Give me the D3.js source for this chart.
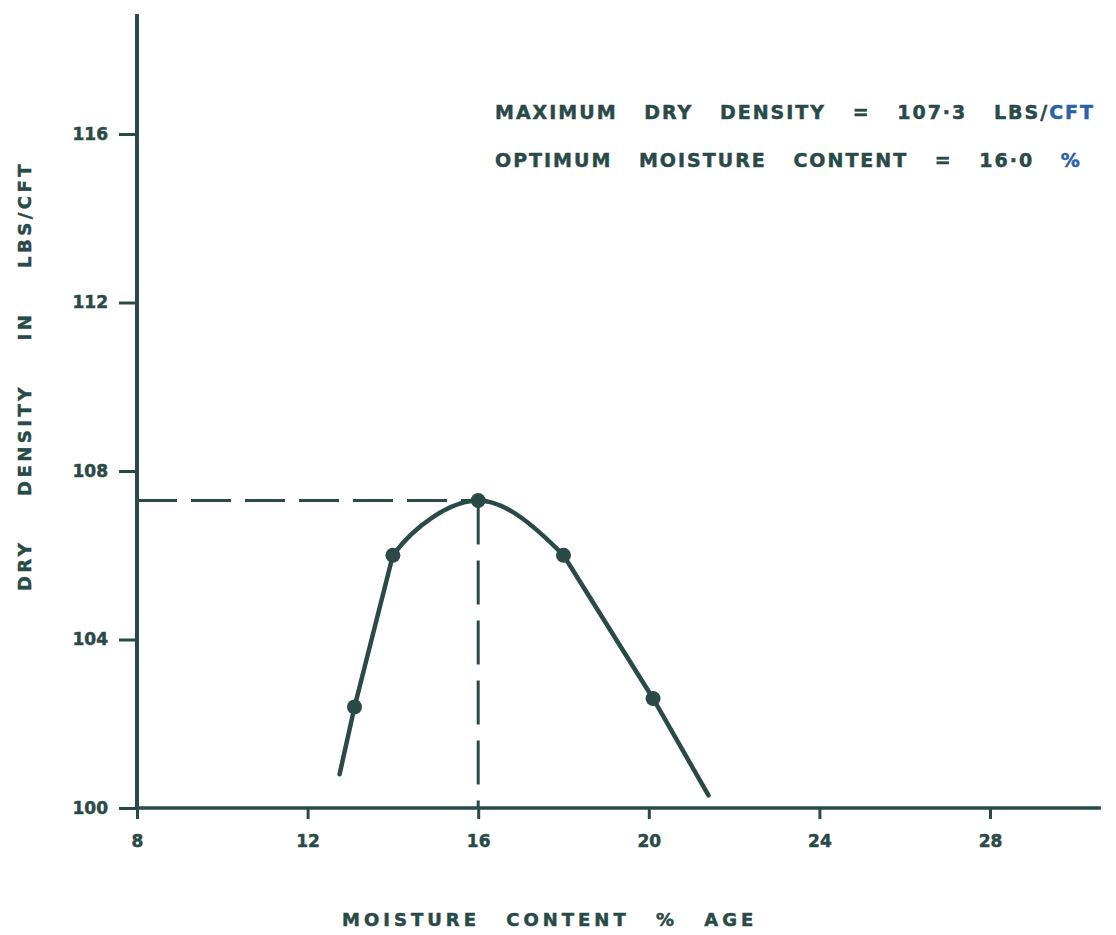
<!DOCTYPE html>
<html>
<head>
<meta charset="utf-8">
<script src="https://cdn.jsdelivr.net/npm/d3@7"></script>
<style>
  html, body { margin: 0; padding: 0; background: #ffffff; }
  svg { display: block; }
  text { font-family: "DejaVu Sans", sans-serif; font-weight: bold; fill: #2a4a48; stroke: #2a4a48; stroke-width: 0.5px; }
</style>
</head>
<body>
<svg id="chart" width="1116" height="935"></svg>
<script>
// ---- data ----
const moisture = [13.1, 14.0, 16.0, 18.0, 20.1];          // % moisture of test points
const density  = [102.4, 106.0, 107.3, 106.0, 102.6];     // dry density lbs/cft
const leftEndMoisture = 12.75, leftEndDensity = 100.8;    // where the drawn curve starts
const rightEndMoisture = 21.4, rightEndDensity = 100.3;   // where the drawn curve ends
const xTicks = [8, 12, 16, 20, 24, 28];
const yTicks = [100, 104, 108, 112, 116];
const maxDryDensity = 107.3;
const optimumMoisture = 16.0;

const ink = "#2a4a48";
const blue = "#2a62a8";
const svg = d3.select("#chart");

const x = d3.scaleLinear().domain([8, 28]).range([137, 990]);
const y = d3.scaleLinear().domain([100, 116]).range([808, 134]);

// axes
const yAxis = d3.axisLeft(y).tickValues(yTicks).tickSize(18).tickPadding(11).tickFormat(d3.format("d"));
const xAxis = d3.axisBottom(x).tickValues(xTicks).tickSize(11).tickPadding(16).tickFormat(d3.format("d"));

const styleTicks = g => {
  g.select(".domain").remove();
  g.selectAll(".tick line").attr("stroke", ink).attr("stroke-width", 3);
  g.selectAll(".tick text").attr("font-size", 17).attr("fill", ink)
    .style("font-family", "DejaVu Sans").style("font-weight", "bold");
};
svg.append("g").attr("transform", `translate(${x(8)},0)`).call(yAxis).call(styleTicks);
svg.append("g").attr("transform", `translate(0,${y(100)})`).call(xAxis).call(styleTicks);

// axis lines
svg.append("line").attr("x1", x(8)).attr("x2", x(8)).attr("y1", y(118.85)).attr("y2", y(100) + 1.5)
  .attr("stroke", ink).attr("stroke-width", 4);
svg.append("line").attr("x1", x(8)).attr("x2", x(30.6)).attr("y1", y(100)).attr("y2", y(100))
  .attr("stroke", ink).attr("stroke-width", 3.5);

// dashed guide lines
svg.append("line").attr("x1", x(8)).attr("x2", x(optimumMoisture)).attr("y1", y(maxDryDensity)).attr("y2", y(maxDryDensity))
  .attr("stroke", ink).attr("stroke-width", 3).attr("stroke-dasharray", "40,14");
svg.append("line").attr("x1", x(optimumMoisture)).attr("x2", x(optimumMoisture)).attr("y1", y(maxDryDensity)).attr("y2", y(100))
  .attr("stroke", ink).attr("stroke-width", 3).attr("stroke-dasharray", "44,16");

// curve: straight limbs, rounded arch over the peak
const pts = moisture.map((m, i) => [m, density[i]]);
const lin = d3.line().x(d => x(d[0])).y(d => y(d[1]));
const curveStyle = p => p.attr("fill", "none").attr("stroke", ink).attr("stroke-width", 4.5).attr("stroke-linecap", "round");
svg.append("path").attr("d", lin([[leftEndMoisture, leftEndDensity], pts[0], pts[1]])).call(curveStyle);
svg.append("path").attr("d", lin([pts[3], pts[4], [rightEndMoisture, rightEndDensity]])).call(curveStyle);

svg.append("clipPath").attr("id", "archClip").append("rect")
  .attr("x", x(pts[1][0])).attr("width", x(pts[3][0]) - x(pts[1][0]))
  .attr("y", 0).attr("height", y(100));
const arch = d3.line().x(d => x(d[0])).y(d => y(d[1])).curve(d3.curveCatmullRom.alpha(0.5));
svg.append("path").attr("d", arch(pts)).attr("clip-path", "url(#archClip)").call(curveStyle).attr("stroke-linecap", "butt");

// points
svg.selectAll("circle.pt").data(pts).join("circle")
  .attr("class", "pt").attr("cx", d => x(d[0])).attr("cy", d => y(d[1])).attr("r", 7.5).attr("fill", ink);

// annotations
const annStyle = t => t.attr("font-size", 19).style("letter-spacing", "2px").style("word-spacing", "18px");
const ann1 = svg.append("text").attr("x", 495).attr("y", 119).call(annStyle);
ann1.append("tspan").text("MAXIMUM DRY DENSITY = 107·3 LBS/");
ann1.append("tspan").style("fill", blue).style("stroke", blue).text("CFT");
const ann2 = svg.append("text").attr("x", 495).attr("y", 167).call(annStyle);
ann2.append("tspan").text("OPTIMUM MOISTURE CONTENT = 16·0 ");
ann2.append("tspan").style("fill", blue).style("stroke", blue).text("%");

// axis titles
svg.append("text").attr("x", 342).attr("y", 926).attr("font-size", 18)
  .style("letter-spacing", "4px").style("word-spacing", "16px").text("MOISTURE CONTENT % AGE");
svg.append("text").attr("transform", "translate(31,376) rotate(-90)").attr("text-anchor", "middle").attr("font-size", 18)
  .style("letter-spacing", "3.5px").style("word-spacing", "34px").text("DRY DENSITY IN LBS/CFT");
</script>
</body>
</html>
